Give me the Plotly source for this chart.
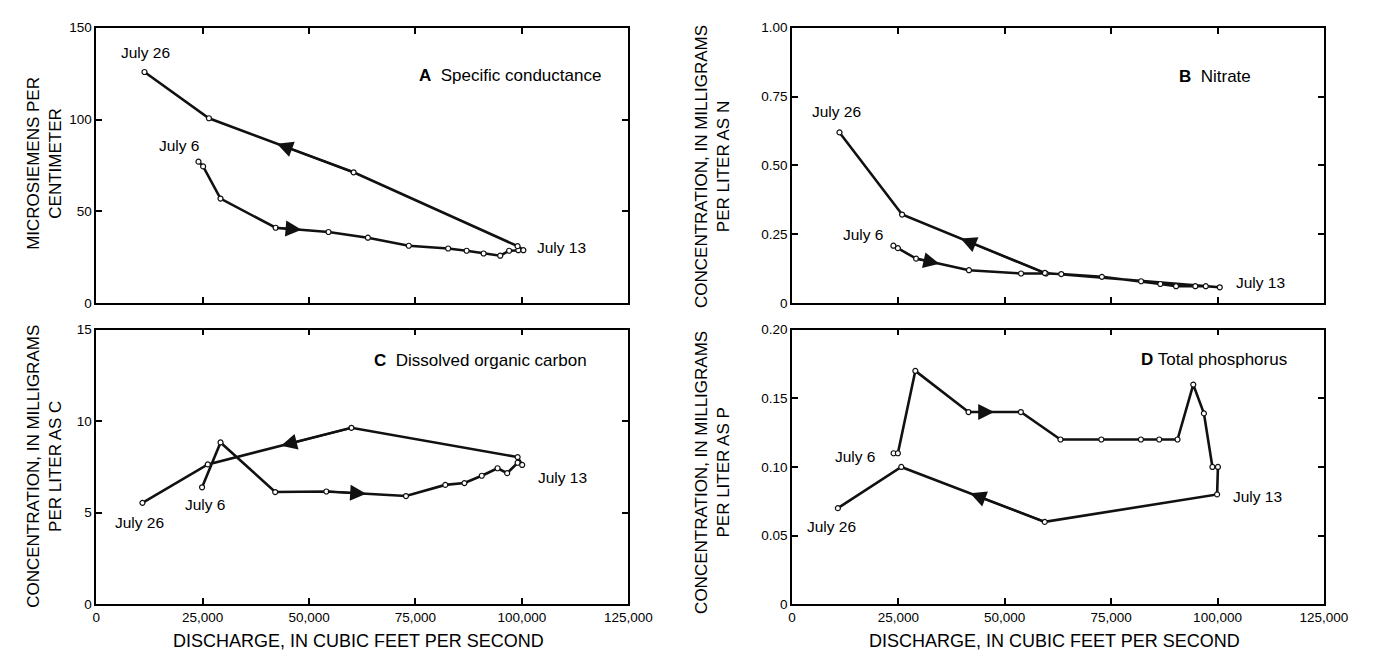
import plotly.graph_objects as go

# ---------------- data (discharge in ft3/s, values) ----------------
# Each series runs July 6 -> July 13 (peak) -> July 26
a_q = [24020, 25110, 29190, 42150, 54570, 63820, 73430, 82670, 87020, 91010, 94910, 97000, 99170, 100350, 98990, 60460, 26470, 11330]
a_v = [77.1, 74.5, 57.0, 41.1, 38.8, 35.7, 31.3, 29.8, 28.6, 27.1, 25.9, 28.6, 28.9, 28.9, 31.1, 71.3, 100.7, 125.9]

b_q = [23840, 24900, 29180, 41600, 53840, 59680, 63290, 72830, 82040, 86560, 90260, 94780, 97240, 100530, 59430, 25890, 11180]
b_v = [0.209, 0.200, 0.162, 0.120, 0.108, 0.108, 0.106, 0.096, 0.080, 0.070, 0.062, 0.062, 0.062, 0.058, 0.110, 0.322, 0.620]

c_q = [24860, 29200, 42040, 54060, 72770, 82000, 86500, 90580, 94290, 96550, 99000, 100070, 99000, 59940, 26200, 10850]
c_v = [6.39, 8.84, 6.13, 6.16, 5.91, 6.52, 6.62, 7.02, 7.43, 7.16, 7.73, 7.61, 8.04, 9.64, 7.64, 5.54]

d_q = [23900, 24900, 29000, 41500, 53800, 63100, 72700, 82000, 86300, 90600, 94300, 96800, 98800, 100100, 99900, 59400, 25700, 10800]
d_v = [0.110, 0.110, 0.170, 0.140, 0.140, 0.120, 0.120, 0.120, 0.120, 0.120, 0.160, 0.139, 0.100, 0.100, 0.080, 0.060, 0.100, 0.070]

x_ticks = [0, 25000, 50000, 75000, 100000, 125000]
x_ticktext = ["0", "25,000", "50,000", "75,000", "100,000", "125,000"]

a_ticks = [0, 50, 100, 150]
a_ticktext = ["0", "50", "100", "150"]
b_ticks = [0, 0.25, 0.5, 0.75, 1.0]
b_ticktext = ["0", "0.25", "0.50", "0.75", "1.00"]
c_ticks = [0, 5, 10, 15]
c_ticktext = ["0", "5", "10", "15"]
d_ticks = [0, 0.05, 0.10, 0.15, 0.20]
d_ticktext = ["0", "0.05", "0.10", "0.15", "0.20"]

panel_titles = ["<b>A</b>  Specific conductance", "<b>B</b>  Nitrate",
                "<b>C</b>  Dissolved organic carbon", "<b>D</b> Total phosphorus"]
y_titles = ["MICROSIEMENS PER<br>CENTIMETER",
            "CONCENTRATION, IN MILLIGRAMS<br>PER LITER AS N",
            "CONCENTRATION, IN MILLIGRAMS<br>PER LITER AS C",
            "CONCENTRATION, IN MILLIGRAMS<br>PER LITER AS P"]
x_title = "DISCHARGE, IN CUBIC FEET PER SECOND"

# ---------------- styling / layout ----------------
W, H = 1385, 658
FONT = "Liberation Sans, Arial, Helvetica, sans-serif"
TICK_SIZE = 13.5
TITLE_SIZE = 17
LABEL_SIZE = 15.5

def px_x(p):
    return p / W

def px_y(p):
    return (H - p) / H

dom_x_left = [px_x(86), px_x(629)]
dom_x_right = [px_x(796), px_x(1339)]
dom_y_top = [px_y(295), px_y(13)]
dom_y_bot = [px_y(603), px_y(322)]

panels = [
    dict(q=a_q, v=a_v, xa="x", ya="y", xd=dom_x_left, yd=dom_y_top, yr=[0, 150], yt=a_ticks, ytt=a_ticktext, bottom=False,
         arrows=[(3, 0.49), (15, 0.53)],
         labels=[("July 6", 0, dict(xanchor="center", xshift=-19, yshift=16)),
                 ("July 13", 13, dict(xanchor="left", xshift=12, yshift=3)),
                 ("July 26", 17, dict(xanchor="center", xshift=1, yshift=19))],
         title_pos=(0.952, 0.826), ytitle_pos=(33, 152)),
    dict(q=b_q, v=b_v, xa="x2", ya="y2", xd=dom_x_right, yd=dom_y_top, yr=[0, 1.0], yt=b_ticks, ytt=b_ticktext, bottom=False,
         arrows=[(2, 0.44), (14, 0.59)],
         labels=[("July 6", 0, dict(xanchor="right", xshift=-7, yshift=11)),
                 ("July 13", 13, dict(xanchor="left", xshift=14, yshift=5)),
                 ("July 26", 16, dict(xanchor="center", xshift=-3, yshift=21))],
         title_pos=(0.866, 0.824), ytitle_pos=(715, 155)),
    dict(q=c_q, v=c_v, xa="x3", ya="y3", xd=dom_x_left, yd=dom_y_bot, yr=[0, 15], yt=c_ticks, ytt=c_ticktext, bottom=True,
         arrows=[(3, 0.5), (13, 0.49)],
         labels=[("July 6", 0, dict(xanchor="center", xshift=3, yshift=-17)),
                 ("July 13", 11, dict(xanchor="left", xshift=14, yshift=-13)),
                 ("July 26", 15, dict(xanchor="center", xshift=-3, yshift=-20))],
         title_pos=(0.926, 0.887), ytitle_pos=(33, 462)),
    dict(q=d_q, v=d_v, xa="x4", ya="y4", xd=dom_x_right, yd=dom_y_bot, yr=[0, 0.2], yt=d_ticks, ytt=d_ticktext, bottom=True,
         arrows=[(3, 0.49), (15, 0.52)],
         labels=[("July 6", 0, dict(xanchor="right", xshift=-16, yshift=-3)),
                 ("July 13", 14, dict(xanchor="left", xshift=14, yshift=-2)),
                 ("July 26", 17, dict(xanchor="center", xshift=-6, yshift=-18))],
         title_pos=(0.935, 0.893), ytitle_pos=(715, 468)),
]

fig = go.Figure()
layout_axes = {}

for i, p in enumerate(panels):
    fig.add_trace(go.Scatter(
        x=p["q"], y=p["v"], xaxis=p["xa"], yaxis=p["ya"], mode="lines+markers",
        line=dict(color="#111111", width=2.6),
        marker=dict(symbol="circle", size=5, color="white", line=dict(color="#111111", width=1.2)),
        showlegend=False, hoverinfo="skip"))

    xname = "xaxis" if p["xa"] == "x" else "xaxis" + p["xa"][1:]
    yname = "yaxis" if p["ya"] == "y" else "yaxis" + p["ya"][1:]
    common = dict(showline=True, linecolor="black", linewidth=1.6, mirror="allticks",
                  ticks="inside", ticklen=6, tickwidth=1.5, tickcolor="black",
                  showgrid=False, zeroline=False,
                  tickfont=dict(family=FONT, size=TICK_SIZE, color="black"))
    layout_axes[xname] = dict(common, domain=p["xd"], range=[0, 125000], tickvals=x_ticks, ticktext=x_ticktext,
                              showticklabels=p["bottom"], anchor=p["ya"])
    layout_axes[yname] = dict(common, domain=p["yd"], range=p["yr"], tickvals=p["yt"], ticktext=p["ytt"],
                              anchor=p["xa"])

    # direction arrows placed along data segments
    for seg, t in p["arrows"]:
        x0, y0 = p["q"][seg], p["v"][seg]
        x1, y1 = p["q"][seg + 1], p["v"][seg + 1]
        xa_ = x0 + t * (x1 - x0)
        ya_ = y0 + t * (y1 - y0)
        fig.add_annotation(x=xa_, y=ya_, ax=x0, ay=y0, xref=p["xa"], yref=p["ya"],
                           axref=p["xa"], ayref=p["ya"], text="", showarrow=True,
                           arrowhead=2, arrowsize=1.6, arrowwidth=2, arrowcolor="#111111")

    # date labels
    for txt, idx, kw in p["labels"]:
        fig.add_annotation(x=p["q"][idx], y=p["v"][idx], xref=p["xa"], yref=p["ya"], text=txt,
                           showarrow=False, yanchor="middle",
                           font=dict(family=FONT, size=LABEL_SIZE, color="black"), **kw)

    # panel title
    fig.add_annotation(x=p["title_pos"][0], y=p["title_pos"][1],
                       xref=p["xa"] + " domain", yref=p["ya"] + " domain",
                       text=panel_titles[i], showarrow=False, xanchor="right", yanchor="middle",
                       font=dict(family=FONT, size=TITLE_SIZE, color="black"))

    # y-axis title
    fig.add_annotation(x=px_x(p["ytitle_pos"][0]), y=px_y(p["ytitle_pos"][1]), xref="paper", yref="paper",
                       text=y_titles[i], showarrow=False, textangle=-90,
                       xanchor="center", yanchor="middle",
                       font=dict(family=FONT, size=TITLE_SIZE, color="black"))

# x-axis titles
for cx in (354, 1064):
    fig.add_annotation(x=px_x(cx), y=px_y(641), xref="paper", yref="paper", text=x_title,
                       showarrow=False, xanchor="center", yanchor="middle",
                       font=dict(family=FONT, size=18, color="black"))

fig.update_layout(width=W, height=H, margin=dict(l=0, r=0, t=0, b=0),
                  paper_bgcolor="white", plot_bgcolor="white", showlegend=False,
                  **layout_axes)

fig.write_html("out.html")
